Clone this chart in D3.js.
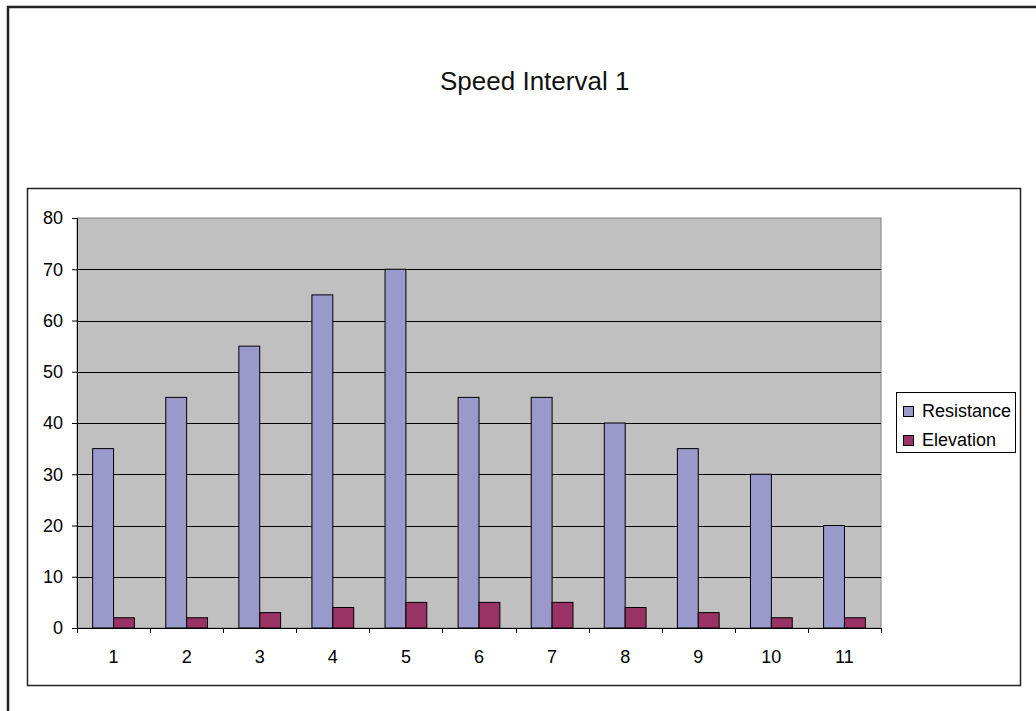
<!DOCTYPE html>
<html>
<head>
<meta charset="utf-8">
<script src="https://cdn.jsdelivr.net/npm/d3@7"></script>
<style>
  body { margin: 0; background: #fff; }
  svg { display: block; font-family: "Liberation Sans", Arial, sans-serif; }
</style>
</head>
<body>
<svg id="chart"></svg>
<script>
var categories = ["1", "2", "3", "4", "5", "6", "7", "8", "9", "10", "11"];
var resistance = [35, 45, 55, 65, 70, 45, 45, 40, 35, 30, 20];
var elevation = [2, 2, 3, 4, 5, 5, 5, 4, 3, 2, 2];
var seriesNames = ["Resistance", "Elevation"];
var yTicks = [0, 10, 20, 30, 40, 50, 60, 70, 80];

var width = 1036,
  height = 711;

var colors = ["#9999cc", "#993366"];

var svg = d3.select("#chart")
  .attr("width", width)
  .attr("height", height);

// outer chart border (runs off the right and bottom edge)
svg.append("rect")
  .attr("x", 8).attr("y", 7)
  .attr("width", 1040).attr("height", 720)
  .attr("fill", "#fff")
  .attr("stroke", "#222")
  .attr("stroke-width", 2.5);

svg.append("text")
  .attr("x", 440).attr("y", 90)
  .attr("font-size", "26px")
  .attr("fill", "#111")
  .text("Speed Interval 1");

// inner frame
svg.append("rect")
  .attr("x", 27.5).attr("y", 188.5)
  .attr("width", 993).attr("height", 497)
  .attr("fill", "#fff")
  .attr("stroke", "#222")
  .attr("stroke-width", 1.5);

var plot = { left: 77, top: 218, right: 881, bottom: 628 };

var x = d3.scaleBand()
  .domain(categories)
  .range([plot.left, plot.right]);

var bw = x.bandwidth() / 3.5;

var y = d3.scaleLinear()
  .domain([0, 80])
  .range([plot.bottom, plot.top]);

var g = svg.append("g");

g.append("rect")
  .attr("x", plot.left).attr("y", plot.top)
  .attr("width", plot.right - plot.left)
  .attr("height", plot.bottom - plot.top)
  .attr("fill", "#c0c0c0")
  .attr("stroke", "#808080");

g.selectAll("line.grid")
  .data(yTicks.slice(1, -1))
  .enter().append("line")
  .attr("class", "grid")
  .attr("x1", plot.left).attr("x2", plot.right)
  .attr("y1", function (d) { return Math.round(y(d)) + 0.5; })
  .attr("y2", function (d) { return Math.round(y(d)) + 0.5; })
  .attr("stroke", "#000");

var rows = categories.map(function (c, i) {
  return { cat: c, values: [resistance[i], elevation[i]] };
});

var groups = g.selectAll("g.cat")
  .data(rows)
  .enter().append("g")
  .attr("class", "cat");

groups.selectAll("rect")
  .data(function (d) {
    return d.values.map(function (v, j) { return { cat: d.cat, v: v, j: j }; });
  })
  .enter().append("rect")
  .attr("x", function (d) { return x(d.cat) + 0.75 * bw + d.j * bw; })
  .attr("y", function (d) { return y(d.v); })
  .attr("width", bw)
  .attr("height", function (d) { return y(0) - y(d.v); })
  .attr("fill", function (d) { return colors[d.j]; })
  .attr("stroke", "#000")
  .attr("stroke-width", 1);

// axes
var yAxis = d3.axisLeft(y)
  .tickValues(yTicks)
  .tickSize(5)
  .tickPadding(9);

var ya = svg.append("g")
  .attr("transform", "translate(" + plot.left + ",0)")
  .call(yAxis);
ya.attr("font-size", null).attr("font-family", null);
ya.select(".domain").attr("stroke", "#000");
ya.selectAll("text").attr("font-size", "18px").attr("fill", "#000");

var xAxis = d3.axisBottom(x).tickSize(0).tickPadding(22);
var xa = svg.append("g")
  .attr("transform", "translate(0," + plot.bottom + ")")
  .call(xAxis);
xa.attr("font-size", null).attr("font-family", null);
xa.select(".domain").attr("stroke", "#000");
xa.selectAll("text").attr("font-size", "18px").attr("fill", "#000");

// tick marks at category boundaries
xa.selectAll("line.sep")
  .data(categories.concat(["end"]))
  .enter().append("line")
  .attr("class", "sep")
  .attr("x1", function (d, i) { return Math.round(plot.left + i * x.step()) + 0.5; })
  .attr("x2", function (d, i) { return Math.round(plot.left + i * x.step()) + 0.5; })
  .attr("y1", 0).attr("y2", 5)
  .attr("stroke", "#000");

// legend
var legend = svg.append("g").attr("transform", "translate(896,392)");
legend.append("rect")
  .attr("x", 0.5).attr("y", 0.5)
  .attr("width", 119).attr("height", 60)
  .attr("fill", "#fff")
  .attr("stroke", "#000");

var items = legend.selectAll("g.item")
  .data(seriesNames)
  .enter().append("g")
  .attr("class", "item")
  .attr("transform", function (d, i) { return "translate(7," + (19 + i * 29) + ")"; });

items.append("rect")
  .attr("x", 0.5).attr("y", -4.5)
  .attr("width", 10).attr("height", 10)
  .attr("fill", function (d, i) { return colors[i]; })
  .attr("stroke", "#000");

items.append("text")
  .attr("x", 19).attr("y", 6)
  .attr("font-size", "18px")
  .attr("fill", "#000")
  .text(function (d) { return d; });
</script>
</body>
</html>
